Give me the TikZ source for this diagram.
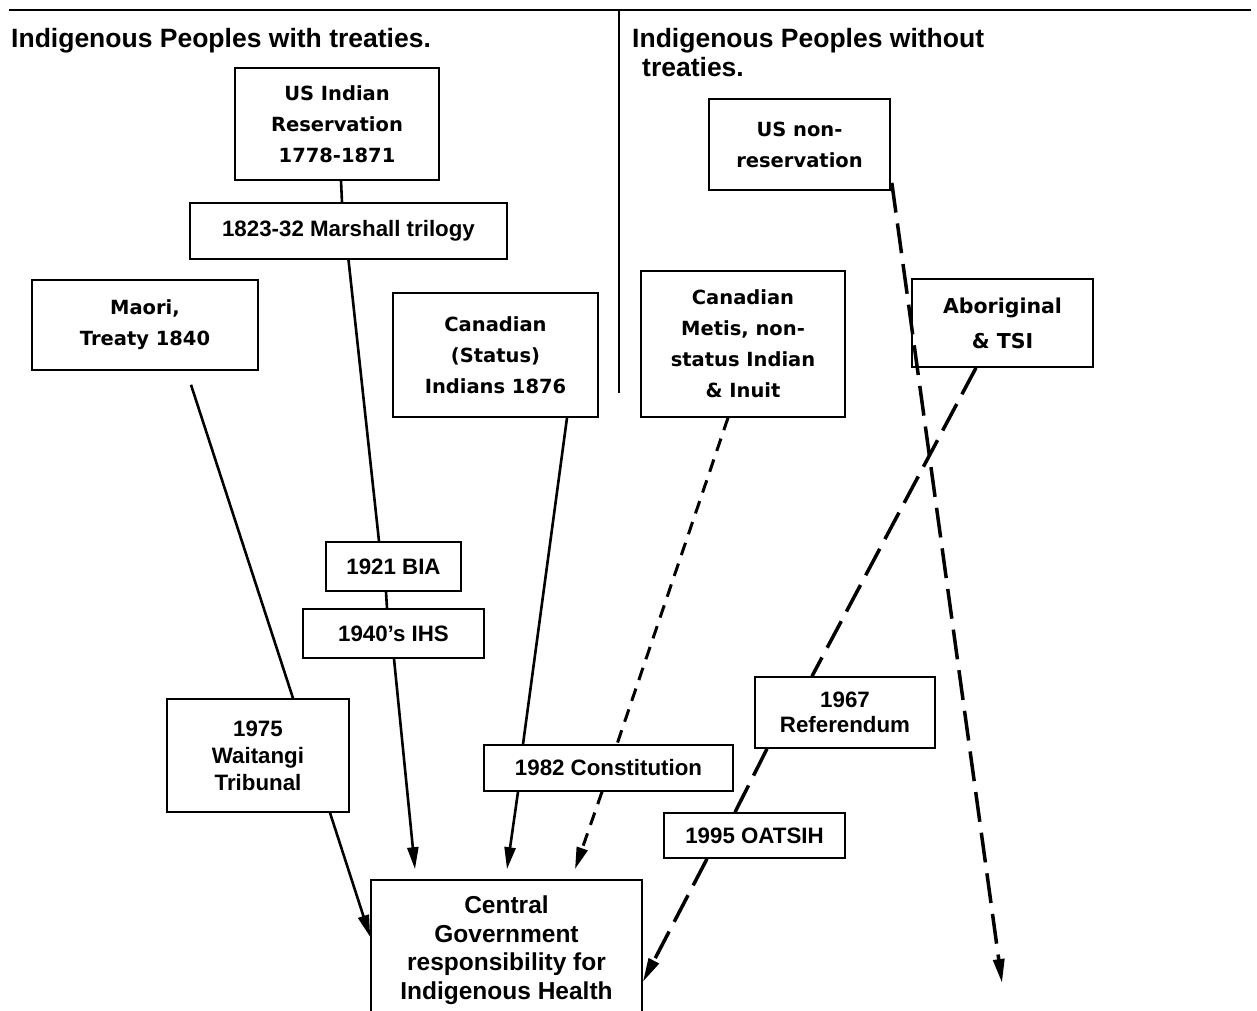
\documentclass[tikz,border=0pt]{standalone}
\usepackage{fontspec}
\setmainfont{Liberation Sans}
\newfontfamily\comicfam{DejaVu Sans}
\usetikzlibrary{arrows.meta}
\tikzset{
  header/.style={font=\bfseries\fontsize{26.5}{29}\selectfont, inner sep=0pt},
  box/.style={draw, line width=1.6pt, align=center, inner sep=0pt},
  comicbox/.style={box, font=\comicfam\bfseries\fontsize{19.5}{31}\selectfont},
  arialbox/.style={box, font=\bfseries\fontsize{22.3}{27}\selectfont},
  link/.style={line width=2.6pt},
  arrowlink/.style={link, -{Triangle[length=22pt,width=11pt]}},
  shortdash/.style={line width=3pt, dash pattern=on 13pt off 9pt},
  longdash/.style={line width=3.5pt, dash pattern=on 30pt off 11pt},
  longtip/.style={-{Triangle[length=24pt,width=11pt]}}
}

\begin{document}
\begin{tikzpicture}[x=1pt, y=-1pt]
  \useasboundingbox (0,0) rectangle (1257,1010);
  \clip (0,0) rectangle (1257,1010);
  % Frame lines
  \draw[line width=2pt] (9,10) -- (1251,10);
  \draw[line width=1.5pt] (619,10) -- (619,393);
  % Headings
  \node[header, anchor=base west] (lefthead) at (11,47) {Indigenous Peoples with treaties.};
  \node[header, anchor=base west, align=left] (righthead) at (632,76)
    {Indigenous Peoples without\\\hspace*{10pt}treaties.};
  % Peoples with treaties
  \node[comicbox, minimum width=204pt, minimum height=112pt] (usres) at (337,124)
    {US Indian\\Reservation\\1778-1871};
  \node[arialbox, minimum width=317pt, minimum height=56pt] (marshall) at (348.5,231)
    {1823-32 Marshall trilogy};
  \node[comicbox, minimum width=226pt, minimum height=90pt] (maori) at (145,325)
    {Maori,\\Treaty 1840};
  \node[comicbox, minimum width=205pt, minimum height=124pt] (canstat) at (495.5,355)
    {Canadian\\(Status)\\Indians 1876};
  \node[arialbox, minimum width=135pt, minimum height=49pt] (bia) at (393.5,566.5)
    {1921 BIA};
  \node[arialbox, minimum width=181pt, minimum height=49pt] (ihs) at (393.5,633.5)
    {1940's IHS};
  \node[arialbox, minimum width=182pt, minimum height=113pt] (waitangi) at (258,755.5)
    {1975\\Waitangi\\Tribunal};
  % Peoples without treaties
  \node[comicbox, minimum width=181pt, minimum height=91pt] (usnonres) at (799.5,144.5)
    {US non-\\reservation};
  \node[comicbox, minimum width=204pt, minimum height=146pt] (metis) at (743,344)
    {Canadian\\Metis, non-\\status Indian\\\& Inuit};
  \node[comicbox, font=\comicfam\bfseries\fontsize{20.5}{35}\selectfont,
    minimum width=181pt, minimum height=88pt] (aborig) at (1002.5,323)
    {Aboriginal\\\& TSI};
  \node[arialbox, minimum width=249pt, minimum height=46pt] (constit) at (608.5,768)
    {1982 Constitution};
  \node[arialbox, font=\bfseries\fontsize{22.3}{25}\selectfont,
    minimum width=180pt, minimum height=71pt] (referend) at (845,712.5)
    {1967\\Referendum};
  \node[arialbox, minimum width=181pt, minimum height=45pt] (oatsih) at (754.5,835.5)
    {1995 OATSIH};
  % Target
  \node[arialbox, font=\bfseries\fontsize{24.5}{28.5}\selectfont,
    minimum width=271pt, minimum height=140pt] (central) at (506.5,950)
    {Central\\Government\\responsibility for\\Indigenous Health};
  \coordinate (nonresend) at (1002,983);

  % Solid links
  \draw[link] ([xshift=4pt]usres.south) -- ([xshift=-6.5pt]marshall.north);
  \draw[link] (marshall.south) -- ([xshift=-14.5pt]bia.north);
  \draw[link] ([xshift=-7.5pt]bia.south) -- ([xshift=-6.5pt]ihs.north);
  \draw[arrowlink] ([xshift=0.5pt]ihs.south) -- ([xshift=-91.5pt,yshift=10pt]central.north);
  \draw[link] ([xshift=46pt,yshift=-14pt]maori.south) -- ([xshift=35pt]waitangi.north);
  \draw[arrowlink] ([xshift=72pt]waitangi.south) -- ([yshift=13pt]central.west);
  \draw[link] ([xshift=71.5pt]canstat.south) -- ([xshift=-85.5pt]constit.north);
  \draw[arrowlink] ([xshift=-90.5pt]constit.south) -- ([xshift=0.5pt,yshift=10pt]central.north);
  % Dashed links
  \draw[shortdash] ([xshift=-15pt]metis.south) -- ([xshift=8.5pt]constit.north);
  \draw[arrowlink, shortdash] ([xshift=-6.5pt]constit.south) -- ([xshift=68.5pt,yshift=10pt]central.north);
  \draw[longdash] ([xshift=-26.5pt]aborig.south) -- ([xshift=-33pt]referend.north);
  \draw[longdash] ([xshift=-78pt]referend.south) -- ([xshift=-19.5pt]oatsih.north);
  \draw[longdash, longtip] ([xshift=-47.5pt]oatsih.south) -- ([yshift=-32pt]central.east);
  \draw[longdash, longtip] ([xshift=1pt,yshift=8pt]usnonres.south east) -- (nonresend);
\end{tikzpicture}
\end{document}
